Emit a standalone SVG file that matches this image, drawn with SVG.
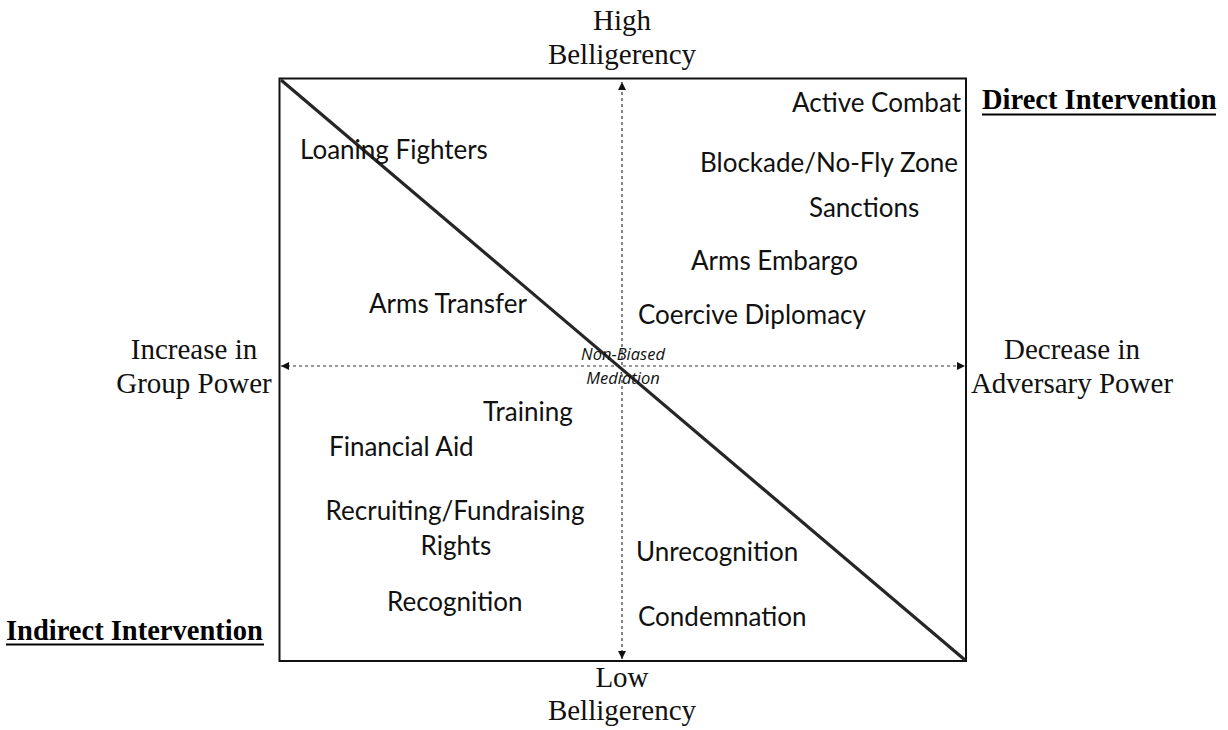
<svg xmlns="http://www.w3.org/2000/svg" width="1228" height="730" viewBox="0 0 1228 730">
<defs>
<style>
.lbl{font-family:Lato,"Open Sans",sans-serif;font-size:26px;fill:#111}
.ser{font-family:"Liberation Serif","Times New Roman",serif;font-size:29px;fill:#111;text-anchor:middle}
.bold{font-family:"Liberation Serif","Times New Roman",serif;font-size:28.5px;font-weight:bold;fill:#000}
.small{font-family:"Open Sans",Lato,sans-serif;font-size:16.5px;font-style:italic;fill:#111;text-anchor:middle}
.axis{stroke:#333;stroke-width:1.2;stroke-dasharray:3 3;fill:none}
</style>
<marker id="ah" viewBox="0 0 10 10" refX="10" refY="5" markerWidth="9" markerHeight="8" markerUnits="userSpaceOnUse" orient="auto-start-reverse">
<path d="M0,0 L10,5 L0,10 Z" fill="#111"/>
</marker>
</defs>
<rect width="1228" height="730" fill="#fff"/>
<g id="frame">
<rect x="279.5" y="78.5" width="686.5" height="582.5" fill="none" stroke="#111" stroke-width="2"/>
</g>
<g id="connectors">
<line class="axis" x1="622" y1="659" x2="622" y2="82" marker-start="url(#ah)" marker-end="url(#ah)"/>
<line class="axis" x1="281" y1="366" x2="965" y2="366" marker-start="url(#ah)" marker-end="url(#ah)"/>
<line x1="281" y1="80" x2="965" y2="660" stroke="#262626" stroke-width="3.2"/>
</g>
<g id="axis-labels">
<text class="ser" x="622" y="30">High</text>
<text class="ser" x="622" y="64">Belligerency</text>
<text class="ser" x="622" y="687">Low</text>
<text class="ser" x="622" y="720">Belligerency</text>
<text class="ser" x="194" y="359">Increase in</text>
<text class="ser" x="194" y="393">Group Power</text>
<text class="ser" x="1072" y="359">Decrease in</text>
<text class="ser" x="1072" y="393">Adversary Power</text>
</g>
<g id="direct-intervention">
<text class="bold" x="982" y="109">Direct Intervention</text>
<line x1="982" y1="114.5" x2="1216" y2="114.5" stroke="#000" stroke-width="2"/>
</g>
<g id="indirect-intervention">
<text class="bold" x="6" y="640">Indirect Intervention</text>
<line x1="6" y1="644.5" x2="264" y2="644.5" stroke="#000" stroke-width="2"/>
</g>
<g id="active-combat"><text class="lbl" x="792" y="112">Active Combat</text></g>
<g id="loaning-fighters"><text class="lbl" x="300" y="159">Loaning Fighters</text></g>
<g id="blockade"><text class="lbl" x="700" y="172">Blockade/No-Fly Zone</text></g>
<g id="sanctions"><text class="lbl" x="809" y="217">Sanctions</text></g>
<g id="arms-embargo"><text class="lbl" x="691" y="270">Arms Embargo</text></g>
<g id="arms-transfer"><text class="lbl" x="369" y="313">Arms Transfer</text></g>
<g id="coercive-diplomacy"><text class="lbl" x="638" y="324">Coercive Diplomacy</text></g>
<g id="mediation">
<text class="small" x="623" y="360">Non-Biased</text>
<text class="small" x="623" y="384">Mediation</text>
</g>
<g id="training"><text class="lbl" x="483" y="421">Training</text></g>
<g id="financial-aid"><text class="lbl" x="329" y="456">Financial Aid</text></g>
<g id="recruiting">
<text class="lbl" x="455" y="520" text-anchor="middle">Recruiting/Fundraising</text>
<text class="lbl" x="456" y="555" text-anchor="middle">Rights</text>
</g>
<g id="unrecognition"><text class="lbl" x="636" y="561">Unrecognition</text></g>
<g id="recognition"><text class="lbl" x="387" y="611">Recognition</text></g>
<g id="condemnation"><text class="lbl" x="638" y="626">Condemnation</text></g>
</svg>
